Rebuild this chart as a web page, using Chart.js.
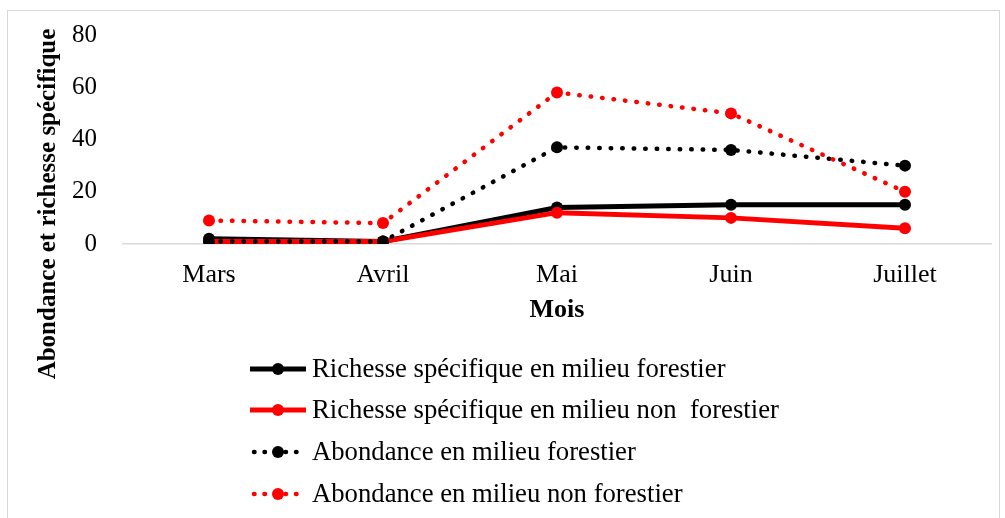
<!DOCTYPE html>
<html><head><meta charset="utf-8">
<script src="https://cdn.jsdelivr.net/npm/chart.js@4/dist/chart.umd.min.js"></script>
<style>
html,body{margin:0;padding:0;background:#fff;overflow:hidden}
#wrap{position:relative;width:1005px;height:518px}
#frame{position:absolute;left:7px;top:10px;width:993px;height:520px;border:1px solid #d9d9d9;box-sizing:border-box}
canvas{position:absolute;left:0;top:0}
</style></head>
<body><div id="wrap"><div id="frame"></div><canvas id="c" width="1005" height="518"></canvas></div>
<script>
const months = ["Mars", "Avril", "Mai", "Juin", "Juillet"];
const richesseForestier = [2, 1, 14, 15, 15];
const richesseNonForestier = [1, 1, 12, 10, 6];
const abondanceForestier = [1, 1, 37, 36, 30];
const abondanceNonForestier = [9, 8, 58, 50, 20];
const seriesNames = ["Richesse spécifique en milieu forestier", "Richesse spécifique en milieu non  forestier", "Abondance en milieu forestier", "Abondance en milieu non forestier"];
const yTitle = "Abondance et richesse spécifique";
const xTitle = "Mois";

const FONT = "'Liberation Serif', 'Times New Roman', serif";
const DOT = [0.5, 11];

function ds(label, data, color, dotted, order) {
  return {
    label, data, order,
    borderColor: color, backgroundColor: color,
    pointBackgroundColor: color, pointBorderColor: color,
    borderWidth: dotted ? 4.5 : 5,
    borderDash: dotted ? DOT : [],
    borderCapStyle: dotted ? 'round' : 'butt',
    pointRadius: 6, pointBorderWidth: 0,
    tension: 0, fill: false
  };
}

const legendPlugin = {
  id: 'customLegend',
  afterDraw(chart) {
    const ctx = chart.ctx;
    const rows = [369, 410, 452, 494];
    chart.data.datasets.forEach((d, i) => {
      const y = rows[i];
      ctx.save();
      ctx.strokeStyle = d.borderColor;
      ctx.lineWidth = d.borderWidth;
      ctx.lineCap = d.borderCapStyle;
      ctx.setLineDash(d.borderDash.length ? [0.5, 10] : []);
      ctx.beginPath();
      ctx.moveTo(d.borderDash.length ? 254 : 250, y);
      ctx.lineTo(306, y);
      ctx.stroke();
      ctx.setLineDash([]);
      ctx.fillStyle = d.pointBackgroundColor;
      ctx.beginPath();
      ctx.arc(278, y, 6, 0, Math.PI * 2);
      ctx.fill();
      ctx.fillStyle = '#000';
      ctx.font = "26.7px " + FONT;
      ctx.textBaseline = 'middle';
      ctx.textAlign = 'left';
      ctx.fillText(d.label, 312, y + 1);
      ctx.restore();
    });
    // y-axis title
    ctx.save();
    ctx.translate(49, 204);
    ctx.rotate(-Math.PI / 2);
    ctx.font = "bold 25px " + FONT;
    ctx.fillStyle = '#000';
    ctx.textAlign = 'center';
    ctx.textBaseline = 'middle';
    ctx.fillText(yTitle, 0, 0);
    ctx.restore();
  }
};

new Chart(document.getElementById('c'), {
  type: 'line',
  data: {
    labels: months,
    datasets: [
      ds(seriesNames[0], richesseForestier, '#000000', false, 4),
      ds(seriesNames[1], richesseNonForestier, '#ff0000', false, 3),
      ds(seriesNames[2], abondanceForestier, '#000000', true, 2),
      ds(seriesNames[3], abondanceNonForestier, '#ff0000', true, 1)
    ]
  },
  options: {
    responsive: false, animation: false, devicePixelRatio: 1,
    layout: { padding: { left: 0, right: 13, top: 35, bottom: 0 } },
    plugins: { legend: { display: false }, tooltip: { enabled: false } },
    scales: {
      x: {
        offset: true,
        grid: { display: false, drawTicks: false },
        border: { display: false },
        ticks: { color: '#000', padding: 16, font: { family: FONT, size: 26 } },
        title: { display: true, text: xTitle, color: '#000', font: { family: FONT, size: 26, weight: 'bold' }, padding: { top: 0, bottom: 192 } },
        afterFit(s) { s.height = 274; }
      },
      y: {
        min: 0, max: 80,
        ticks: { stepSize: 20, color: '#000', padding: 25, font: { family: FONT, size: 25 } },
        grid: { drawTicks: false, lineWidth: 1.5, color: c => c.tick && c.tick.value === 0 ? '#d9d9d9' : 'rgba(0,0,0,0)' },
        border: { display: false },
        afterFit(s) { s.width = 122; s.paddingTop = 0; s.paddingBottom = 0; }
      }
    }
  },
  plugins: [legendPlugin]
});
</script></body></html>
